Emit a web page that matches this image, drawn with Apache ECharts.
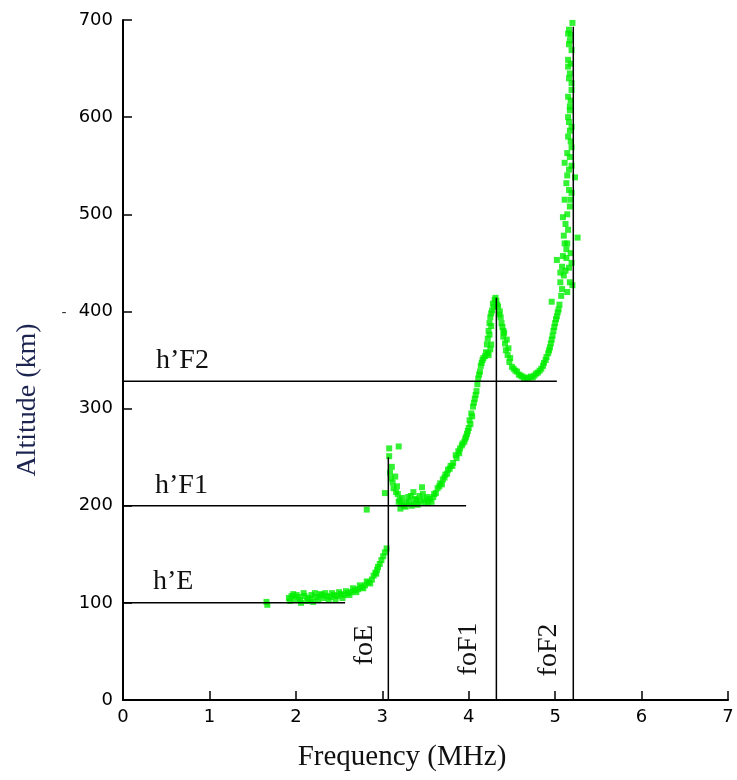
<!DOCTYPE html>
<html>
<head>
<meta charset="utf-8">
<script src="https://cdn.jsdelivr.net/npm/echarts@6/dist/echarts.min.js"></script>
<style>
html,body{margin:0;padding:0;background:#fff;}
#chart{width:737px;height:780px;}
</style>
</head>
<body>
<div id="chart"></div>
<script>
// Ionogram trace: virtual height (km) vs frequency (MHz)
const traceFreq = [
  1.66,1.67,1.92,1.95,1.99,2.03,2.06,2.10,2.14,2.18,2.20,2.24,2.28,2.32,2.36,2.40,2.44,2.48,2.52,2.56,2.60,2.64,2.68,2.72,2.76,2.80,2.84,2.88,2.92,2.95,2.99,3.03,3.05,
  2.82,3.08,3.08,3.19,3.03,3.09,3.11,3.12,3.15,3.17,3.18,3.20,3.21,3.22,3.25,3.28,3.30,3.34,3.36,3.38,3.41,3.44,3.46,3.47,3.50,3.53,3.55,3.59,3.62,3.64,3.67,3.70,3.73,3.76,3.79,3.82,3.86,3.88,3.90,3.93,3.96,3.98,4.00,4.01,4.03,4.05,4.07,4.09,4.10,4.11,4.13,4.15,4.17,4.19,4.22,4.25,
  4.21,4.22,4.23,4.24,4.25,4.27,4.28,4.30,4.32,4.34,4.36,4.37,4.38,4.40,4.40,4.42,4.44,4.43,4.45,4.47,4.50,4.54,4.58,4.62,4.67,4.72,4.76,4.80,4.84,4.87,4.90,4.93,4.95,4.97,4.99,5.01,
  4.96,5.03,5.05,5.07,5.08,5.06,5.10,5.12,5.02,5.08,5.09,5.19,5.17,5.20,5.11,5.13,5.26,5.15,5.12,5.09,5.17,5.11,5.19,5.13,5.23,5.16,5.11,5.17,5.19,5.15,5.17,5.19,5.15,5.17,5.17,5.15,5.19,5.19,5.17,5.15,5.15,5.19,5.17,5.15,5.16,5.20,
  1.93,1.97,2.01,2.05,2.09,2.13,2.17,2.22,2.26,2.30,2.34,2.38,2.42,2.46,2.50,2.54,2.58,2.62,2.66,2.70,2.74,2.78,2.82,2.86,2.90,2.93,2.94,2.97,3.01,
  3.10,3.13,3.16,3.19,3.23,3.27,3.31,3.33,3.37,3.40,3.43,3.48,3.52,3.57,3.60,3.66,3.69,3.72,3.75,3.78,3.81,3.85,3.89,3.92,3.95,3.97,3.99,4.02,4.04,4.06,4.08,4.12,4.14,4.16,4.20,4.23,4.26,4.24,4.26,4.26,4.29,4.31,4.33,4.35,4.39,4.41,4.46,4.48,4.52,4.56,4.60,4.64,4.69,4.74,4.78,4.82,4.86,4.89,4.92,4.94,4.96,4.98,5.00,5.02,5.04,
  5.14,5.06,5.16,5.18,5.10,5.14,5.18,5.16,5.14,5.19,5.14,5.18,5.16,5.18,5.16,5.18,5.16,5.18,5.14,5.13
];
const traceAlt = [
  101,98,105,107,104,106,100,107,105,108,101,106,109,105,107,106,108,107,109,108,110,111,113,114,116,118,121,124,131,137,144,152,156,
  196,259,251,261,213,234,240,224,230,220,212,206,197,202,200,203,209,200,214,207,201,204,219,212,203,204,207,209,213,218,223,227,232,237,241,244,249,256,259,264,269,274,280,288,295,302,310,318,325,331,338,347,352,354,357,361,
  366,372,380,388,394,401,408,412,411,405,400,394,388,380,374,367,371,360,355,348,343,339,335,333,332,333,334,337,341,347,353,360,367,375,384,392,
  410,399,407,416,423,430,437,442,453,446,457,450,430,427,470,464,476,484,490,497,508,515,522,532,538,546,553,559,569,580,586,590,600,607,611,621,628,635,645,652,659,669,679,686,690,697,
  102,109,108,103,110,102,104,110,103,108,110,103,110,104,111,105,112,108,115,111,118,115,122,120,128,130,134,140,148,
  228,218,214,204,208,199,204,210,202,206,210,206,209,204,212,220,222,229,233,238,241,252,254,262,266,271,277,284,292,306,314,335,344,350,358,355,366,376,385,398,405,414,407,397,384,378,362,352,341,338,334,331,331,332,336,339,344,350,357,363,371,380,388,395,402,
  420,440,445,460,478,500,515,525,540,550,563,575,595,617,640,655,675,685,470,455
];

// virtual heights of the layers (horizontal guide lines)
const layerLabels = ["h\u2019E", "h\u2019F1", "h\u2019F2"];
const layerHeights = [100, 200, 328];
const layerLineEnds = [2.57, 3.97, 5.02];

// critical frequencies (vertical guide lines)
const criticalLabels = ["foE", "foF1", "foF2"];
const criticalFreqs = [3.07, 4.32, 5.21];
const criticalLineTops = [250, 414, 693];

const xTicks = [0, 1, 2, 3, 4, 5, 6, 7];
const yTicks = [0, 100, 200, 300, 400, 500, 600, 700];

const chart = echarts.init(document.getElementById('chart'), null, {renderer: 'canvas'});

const tracePoints = traceFreq.map((f, i) => [f, traceAlt[i]]);

const guideSeries = [];
layerHeights.forEach((h, i) => {
  guideSeries.push({
    type: 'line', name: layerLabels[i], silent: true, z: 4,
    showSymbol: false, symbol: 'none', animation: false,
    lineStyle: {color: '#000', width: 1.5},
    data: [[0, h], [layerLineEnds[i], h]]
  });
});
criticalFreqs.forEach((f, i) => {
  guideSeries.push({
    type: 'line', name: criticalLabels[i], silent: true, z: 4,
    showSymbol: false, symbol: 'none', animation: false,
    lineStyle: {color: '#000', width: 1.5},
    data: [[f, 0], [f, criticalLineTops[i]]]
  });
});

const serif = '"Liberation Serif", "Times New Roman", serif';
const labelFont = 28;

// annotation positions (pixels)
const layerLabelPos = [[153, 582], [155, 486], [156, 361]];
const criticalLabelPos = [[365, 645], [469, 649], [549, 650]];

const graphics = [];
layerLabels.forEach((t, i) => {
  graphics.push({
    type: 'text', x: layerLabelPos[i][0], y: layerLabelPos[i][1], z: 10,
    style: {text: t, font: labelFont + 'px ' + serif, fill: '#111', align: 'left', verticalAlign: 'middle'}
  });
});
criticalLabels.forEach((t, i) => {
  graphics.push({
    type: 'text', x: criticalLabelPos[i][0], y: criticalLabelPos[i][1], rotation: Math.PI / 2, z: 10,
    style: {text: t, font: labelFont + 'px ' + serif, fill: '#111', align: 'center', verticalAlign: 'middle'}
  });
});
graphics.push({
  type: 'text', x: 402, y: 757, z: 10,
  style: {text: 'Frequency (MHz)', font: '29px ' + serif, fill: '#111', align: 'center', verticalAlign: 'middle'}
});
graphics.push({
  type: 'text', x: 28, y: 400, rotation: Math.PI / 2, z: 10,
  style: {text: 'Altitude (km)', font: '28px ' + serif, fill: '#1c2450', align: 'center', verticalAlign: 'middle'}
});
graphics.push({
  type: 'text', x: 64, y: 313, z: 10,
  style: {text: '-', font: '14px "DejaVu Sans"', fill: '#333', align: 'center', verticalAlign: 'middle'}
});

const option = {
  backgroundColor: '#fff',
  animation: false,
  grid: {left: 123, right: 9, top: 20, bottom: 80, containLabel: false},
  xAxis: {
    type: 'value', min: xTicks[0], max: xTicks[xTicks.length - 1], interval: 1,
    axisLine: {show: true, onZero: false, lineStyle: {color: '#000', width: 2}},
    axisTick: {show: true, inside: true, length: 9, lineStyle: {color: '#000', width: 1.5}},
    axisLabel: {color: '#000', fontFamily: 'DejaVu Sans', fontSize: 18, margin: 8},
    splitLine: {show: false}
  },
  yAxis: {
    type: 'value', min: yTicks[0], max: yTicks[yTicks.length - 1], interval: 100,
    axisLine: {show: true, onZero: false, lineStyle: {color: '#000', width: 2}},
    axisTick: {show: true, inside: true, length: 9, lineStyle: {color: '#000', width: 1.5}},
    axisLabel: {color: '#000', fontFamily: 'DejaVu Sans', fontSize: 18, margin: 10},
    splitLine: {show: false}
  },
  graphic: graphics,
  series: [
    {
      type: 'scatter', name: 'trace', z: 2, silent: true,
      symbol: 'rect', symbolSize: 6,
      itemStyle: {color: '#00ee00'},
      data: tracePoints
    }
  ].concat(guideSeries)
};

chart.setOption(option);
</script>
</body>
</html>
